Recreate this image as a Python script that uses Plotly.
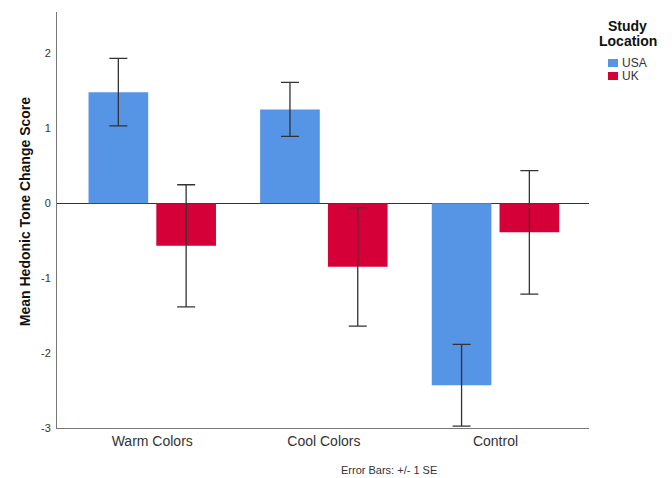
import plotly.graph_objects as go

categories = ["Warm Colors", "Cool Colors", "Control"]
usa_mean = [1.48, 1.25, -2.43]
usa_se = [0.45, 0.36, 0.545]
uk_mean = [-0.57, -0.85, -0.39]
uk_se = [0.815, 0.79, 0.825]

y_tick_values = [-3, -2, -1, 0, 1, 2]
y_tick_labels = ["-3", "-2", "-1", "0", "1", "2"]

series_names = ["USA", "UK"]
series_colors = ["#5694E5", "#D50037"]

fig = go.Figure()
err_style = dict(type="data", visible=True, color="#333333", thickness=1.3, width=9)
for name, color, means, ses in zip(series_names, series_colors,
                                   [usa_mean, uk_mean], [usa_se, uk_se]):
    fig.add_trace(go.Bar(name=name, x=categories, y=means, marker_color=color,
                         marker_line_width=0, showlegend=False,
                         error_y=dict(array=ses, **err_style)))

# Manual legend (keys + labels) to the right of the plot
shapes = []
annotations = []
key_x0, key_x1 = 1.0357, 1.0545
key_rows = [(0.8678, 0.887), (0.8365, 0.8558)]
for (y0, y1), name, color in zip(key_rows, series_names, series_colors):
    shapes.append(dict(type="rect", xref="paper", yref="paper",
                       x0=key_x0, x1=key_x1, y0=y0, y1=y1,
                       fillcolor=color, line=dict(width=0)))
    annotations.append(dict(text=name, x=1.058, y=(y0 + y1) / 2, xref="paper", yref="paper",
                            xanchor="left", yanchor="middle", showarrow=False,
                            font=dict(size=12, color="#333333")))

annotations += [
    dict(text="<b>Study</b>", x=1.0733, y=0.966, xref="paper", yref="paper",
         xanchor="center", yanchor="middle", showarrow=False,
         font=dict(size=14, color="#111111")),
    dict(text="<b>Location</b>", x=1.0733, y=0.931, xref="paper", yref="paper",
         xanchor="center", yanchor="middle", showarrow=False,
         font=dict(size=14, color="#111111")),
    dict(text="<b>Mean Hedonic Tone Change Score</b>", x=-0.060, y=0.519,
         xref="paper", yref="paper", textangle=-90,
         xanchor="center", yanchor="middle", showarrow=False,
         font=dict(size=14, color="#111111")),
    dict(text="Error Bars: +/- 1 SE", x=0.624, y=-0.101, xref="paper", yref="paper",
         xanchor="center", yanchor="middle", showarrow=False,
         font=dict(size=11, color="#333333")),
]

fig.update_layout(
    width=664, height=470,
    margin=dict(l=49, r=83, t=4, b=50, autoexpand=False),
    plot_bgcolor="white", paper_bgcolor="white",
    barmode="group", bargap=0.21, bargroupgap=0.12,
    font=dict(family="Liberation Sans, Arial, sans-serif", color="#333333"),
    showlegend=False,
    xaxis=dict(range=[-0.555, 2.545], showline=True, linecolor="#777777", linewidth=1,
               ticks="", showgrid=False, tickfont=dict(size=14, color="#333333")),
    yaxis=dict(range=[-3, 2.55], showline=True, linecolor="#777777", linewidth=1,
               ticks="", showgrid=False, zeroline=True, zerolinecolor="#333333",
               zerolinewidth=1.3, tickvals=y_tick_values, ticktext=y_tick_labels,
               ticklabelstandoff=3,
               tickfont=dict(size=11, color="#333333")),
    shapes=shapes,
    annotations=annotations,
)

fig.write_html("out.html")
